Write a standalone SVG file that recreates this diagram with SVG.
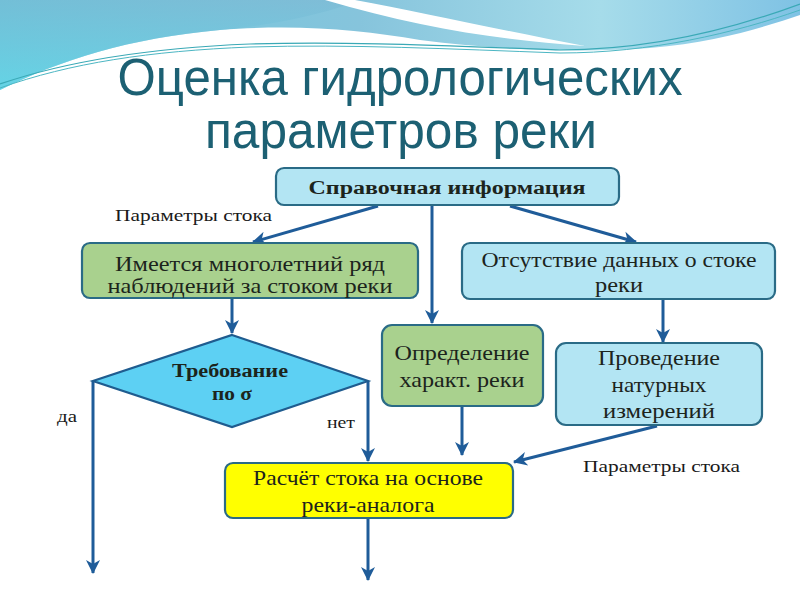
<svg xmlns="http://www.w3.org/2000/svg" width="800" height="600" viewBox="0 0 800 600">
<defs>
<linearGradient id="bgL" x1="0" y1="0" x2="1" y2="0">
<stop offset="0" stop-color="#6cc8dc"/>
<stop offset="0.45" stop-color="#86c4dc"/>
<stop offset="0.75" stop-color="#a6dcea"/>
<stop offset="1" stop-color="#7fc2e4"/>
</linearGradient>
<linearGradient id="bgV" x1="0" y1="0" x2="0" y2="1">
<stop offset="0" stop-color="#7ab6d2" stop-opacity="0.5"/>
<stop offset="1" stop-color="#5fdcec" stop-opacity="0.6"/>
</linearGradient>
<marker id="arr" markerUnits="userSpaceOnUse" markerWidth="16" markerHeight="16" refX="13" refY="8" orient="auto">
<path d="M0,1 L14,8 L0,15 L4,8 Z" fill="#1f5c99"/>
</marker>
<style>
.box{stroke:#2a6b86;stroke-width:2.2}
.blue{fill:#b3e5f3}
.green{fill:#a9d18e}
.yellow{fill:#ffff00}
.dia{fill:#5dd0f3;stroke:#1f5c8f;stroke-width:2.2}
.t{font-family:"Liberation Serif","DejaVu Serif",serif;font-size:21px;fill:#1c241c;text-anchor:middle}
.b{font-weight:bold;font-size:18px}
.lbl{font-family:"Liberation Serif","DejaVu Serif",serif;font-size:17px;fill:#1a1a1a}
.title{font-family:"Liberation Sans","Arial",sans-serif;font-size:52px;fill:#1c6073;text-anchor:middle}
.c{fill:none;stroke:#1f5c99;stroke-width:3;marker-end:url(#arr)}
</style>
</defs>
<rect width="800" height="600" fill="#ffffff"/>
<g id="background">
<path d="M0,0 H800 V15 C770,25 720,42 650,48 C580,53 500,50 420,40 C360,30 300,24 220,30 C130,38 60,60 0,90 Z" fill="url(#bgL)"/>
<path d="M0,0 H360 C300,24 220,30 220,30 C130,38 60,60 0,90 Z" fill="url(#bgV)"/>
<path d="M355,0 C420,12 500,30 585,46 C500,40 420,28 325,0 Z" fill="#ffffff"/>
<path d="M0,84 C70,60 150,48 250,44 C350,41 450,46 560,50 C650,50 730,30 800,4" fill="none" stroke="#3aa9b6" stroke-width="1.2"/>
<path d="M0,88 C70,63 150,51 250,47 C350,44 450,49 560,53 C650,53 735,33 800,10" fill="none" stroke="#4cb6c3" stroke-width="1"/>
</g>
<g id="title">
<text class="title" x="400" y="95" textLength="565" lengthAdjust="spacingAndGlyphs">Оценка гидрологических</text>
<text class="title" x="401" y="148" textLength="392" lengthAdjust="spacingAndGlyphs">параметров реки</text>
</g>
<g id="connectors">
<line class="c" x1="378" y1="206" x2="253" y2="242"/>
<line class="c" x1="432" y1="206" x2="432" y2="323"/>
<line class="c" x1="510" y1="206" x2="636" y2="242"/>
<line class="c" x1="232" y1="299" x2="232" y2="333"/>
<line class="c" x1="663" y1="300" x2="663" y2="342"/>
<polyline class="c" points="93,381 93,573"/>
<polyline class="c" points="368,381 368,461"/>
<line class="c" x1="462" y1="407" x2="462" y2="455"/>
<line class="c" x1="657" y1="426" x2="514" y2="462"/>
<line class="c" x1="368" y1="519" x2="368" y2="580"/>
</g>
<g id="labels">
<text class="lbl" x="115" y="221" textLength="157" lengthAdjust="spacingAndGlyphs">Параметры стока</text>
<text class="lbl" x="583" y="472" textLength="157" lengthAdjust="spacingAndGlyphs">Параметры стока</text>
<text class="lbl" x="57" y="422" textLength="20" lengthAdjust="spacingAndGlyphs">да</text>
<text class="lbl" x="327" y="428" textLength="28" lengthAdjust="spacingAndGlyphs">нет</text>
</g>
<g id="n-spravka">
<rect class="box blue" x="276" y="168" width="343" height="37" rx="8"/>
<text class="t b" x="447" y="194" textLength="277" lengthAdjust="spacingAndGlyphs">Справочная информация</text>
</g>
<g id="n-imeetsya">
<rect class="box green" x="82" y="243" width="336" height="55" rx="8"/>
<text class="t" x="250" y="271" textLength="270" lengthAdjust="spacingAndGlyphs">Имеется многолетний ряд</text>
<text class="t" x="250" y="293" textLength="285" lengthAdjust="spacingAndGlyphs">наблюдений за стоком реки</text>
</g>
<g id="n-otsutstvie">
<rect class="box blue" x="462" y="243" width="313" height="56" rx="8"/>
<text class="t" x="619" y="267" textLength="275" lengthAdjust="spacingAndGlyphs">Отсутствие данных о стоке</text>
<text class="t" x="619" y="292" textLength="48" lengthAdjust="spacingAndGlyphs">реки</text>
</g>
<g id="n-opredelenie">
<rect class="box green" x="382" y="325" width="161" height="81" rx="10"/>
<text class="t" x="462" y="360" textLength="135" lengthAdjust="spacingAndGlyphs">Определение</text>
<text class="t" x="462" y="387" textLength="125" lengthAdjust="spacingAndGlyphs">характ. реки</text>
</g>
<g id="n-provedenie">
<rect class="box blue" x="556" y="343" width="206" height="82" rx="10"/>
<text class="t" x="659" y="365" textLength="122" lengthAdjust="spacingAndGlyphs">Проведение</text>
<text class="t" x="659" y="392" textLength="95" lengthAdjust="spacingAndGlyphs">натурных</text>
<text class="t" x="659" y="418" textLength="112" lengthAdjust="spacingAndGlyphs">измерений</text>
</g>
<g id="n-trebovanie">
<polygon class="dia" points="232,335 368,381 232,427 93,381"/>
<text class="t b" x="230" y="377" textLength="116" lengthAdjust="spacingAndGlyphs">Требование</text>
<text class="t b" x="232" y="400" textLength="40" lengthAdjust="spacingAndGlyphs">по σ</text>
</g>
<g id="n-raschet">
<rect class="box yellow" x="225" y="463" width="288" height="55" rx="8"/>
<text class="t" x="368" y="485" textLength="230" lengthAdjust="spacingAndGlyphs">Расчёт стока на основе</text>
<text class="t" x="368" y="512" textLength="133" lengthAdjust="spacingAndGlyphs">реки-аналога</text>
</g>
</svg>
